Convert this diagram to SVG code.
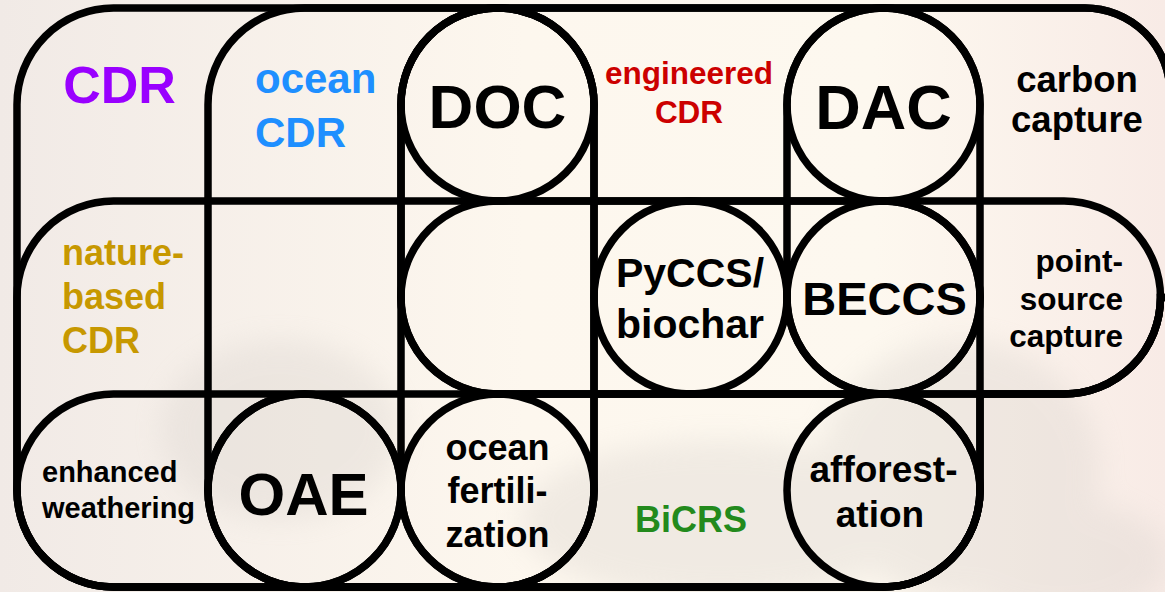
<svg xmlns="http://www.w3.org/2000/svg" width="1165" height="592" viewBox="0 0 1165 592">
  <defs>
    <linearGradient id="bg" x1="0" y1="0" x2="1" y2="0">
      <stop offset="0" stop-color="#f1eae6"/>
      <stop offset="0.45" stop-color="#fdf7ee"/>
      <stop offset="0.75" stop-color="#fdf8ef"/>
      <stop offset="1" stop-color="#f8ebe6"/>
    </linearGradient>
    <filter id="blur" x="-20%" y="-20%" width="140%" height="140%">
      <feGaussianBlur stdDeviation="14"/>
    </filter>
    <style>
      .ln { fill: none; stroke: #000; stroke-width: 7.5; }
      .t { font-family: "Liberation Sans", Arial, sans-serif; font-weight: bold; }
      .blk { fill: #000; }
      .mid { text-anchor: middle; }
    </style>
  </defs>

  <rect x="0" y="0" width="1165" height="592" fill="url(#bg)"/>
  <g id="background-trees" filter="url(#blur)" fill="#d9d3cd" opacity="0.35">
    <ellipse cx="280" cy="430" rx="120" ry="90"/>
    <ellipse cx="720" cy="520" rx="200" ry="80"/>
    <ellipse cx="960" cy="470" rx="140" ry="130"/>
    <ellipse cx="1060" cy="560" rx="110" ry="60"/>
  </g>

  <g id="sets">
    <g id="cdr">
      <path class="ln" d="M 113.5 8 H 1085 A 85 85 0 0 1 1170 93 V 297.5 H 1160.5 A 96.5 96.5 0 0 1 1064 394 H 980 V 490.5 A 96.5 96.5 0 0 1 883.5 587 H 113.5 A 96.5 96.5 0 0 1 17 490.5 V 104.5 A 96.5 96.5 0 0 1 113.5 8 Z"/>
      <text class="t" x="119.5" y="103" text-anchor="middle" font-size="52" fill="#9900ff">CDR</text>
    </g>
    <g id="ocean-cdr">
      <rect class="ln" x="208" y="8" width="386" height="579" rx="96.5"/>
      <text class="t" font-size="42" fill="#1e8fff"><tspan x="255" y="93">ocean</tspan><tspan x="255" y="147">CDR</tspan></text>
    </g>
    <g id="engineered-cdr">
      <rect class="ln" x="401" y="8" width="579" height="386" rx="96.5"/>
      <text class="t mid" font-size="31.5" fill="#cc0000"><tspan x="689" y="84">engineered</tspan><tspan x="689" y="123">CDR</tspan></text>
    </g>
    <g id="carbon-capture">
      <path class="ln" d="M 787 297.5 V 104.5 A 96.5 96.5 0 0 1 883.5 8 H 1085 A 85 85 0 0 1 1170 93 V 297.5 H 1160.5 A 96.5 96.5 0 0 1 1064 394 H 883.5 A 96.5 96.5 0 0 1 787 297.5 Z"/>
      <text class="t mid blk" font-size="36.5"><tspan x="1077" y="92">carbon</tspan><tspan x="1077" y="132">capture</tspan></text>
    </g>
    <g id="nature-based-cdr">
      <rect class="ln" x="17" y="201" width="963" height="386" rx="96.5"/>
      <text class="t" font-size="36" fill="#c79800"><tspan x="62" y="265">nature-</tspan><tspan x="62" y="309">based</tspan><tspan x="62" y="353">CDR</tspan></text>
    </g>
    <g id="point-source-capture">
      <rect class="ln" x="401" y="201" width="759.5" height="193" rx="96.5"/>
      <text class="t blk" font-size="31.5" text-anchor="end"><tspan x="1123" y="272">point-</tspan><tspan x="1123" y="310">source</tspan><tspan x="1123" y="347">capture</tspan></text>
    </g>
    <g id="enhanced-weathering">
      <rect class="ln" x="17" y="394" width="384" height="193" rx="96.5"/>
      <text class="t blk" font-size="29"><tspan x="42" y="482">enhanced</tspan><tspan x="42" y="518">weathering</tspan></text>
    </g>
    <g id="bicrs">
      <rect class="ln" x="208" y="394" width="772" height="193" rx="96.5"/>
      <text class="t mid" x="691" y="532" font-size="36" fill="#238a1c">BiCRS</text>
    </g>
    <g id="ocean-column">
      <rect class="ln" x="401" y="8" width="193" height="579" rx="96.5"/>
    </g>
  </g>

  <g id="methods">
    <g id="doc">
      <circle class="ln" cx="497.5" cy="104.5" r="96.5"/>
      <text class="t mid blk" x="497.5" y="128" font-size="62">DOC</text>
    </g>
    <g id="dac">
      <circle class="ln" cx="883.5" cy="104.5" r="96.5"/>
      <text class="t mid blk" x="883.5" y="129" font-size="63">DAC</text>
    </g>
    <g id="pyccs-biochar">
      <circle class="ln" cx="690.5" cy="297.5" r="96.5"/>
      <text class="t mid blk" font-size="41"><tspan x="690" y="287">PyCCS/</tspan><tspan x="690" y="338">biochar</tspan></text>
    </g>
    <g id="beccs">
      <circle class="ln" cx="883.5" cy="297.5" r="96.5"/>
      <text class="t mid blk" x="884.5" y="315" font-size="47">BECCS</text>
    </g>
    <g id="oae">
      <circle class="ln" cx="304.5" cy="490.5" r="96.5"/>
      <text class="t mid blk" x="303.5" y="515" font-size="60">OAE</text>
    </g>
    <g id="ocean-fertilization">
      <circle class="ln" cx="497.5" cy="490.5" r="96.5"/>
      <text class="t mid blk" font-size="36"><tspan x="497.5" y="460">ocean</tspan><tspan x="497.5" y="503">fertili-</tspan><tspan x="497.5" y="547">zation</tspan></text>
    </g>
    <g id="afforestation">
      <circle class="ln" cx="883.5" cy="490.5" r="96.5"/>
      <text class="t mid blk" font-size="37"><tspan x="883.5" y="482">afforest-</tspan><tspan x="880" y="527">ation</tspan></text>
    </g>
  </g>

  <g id="connectors"/>
</svg>
